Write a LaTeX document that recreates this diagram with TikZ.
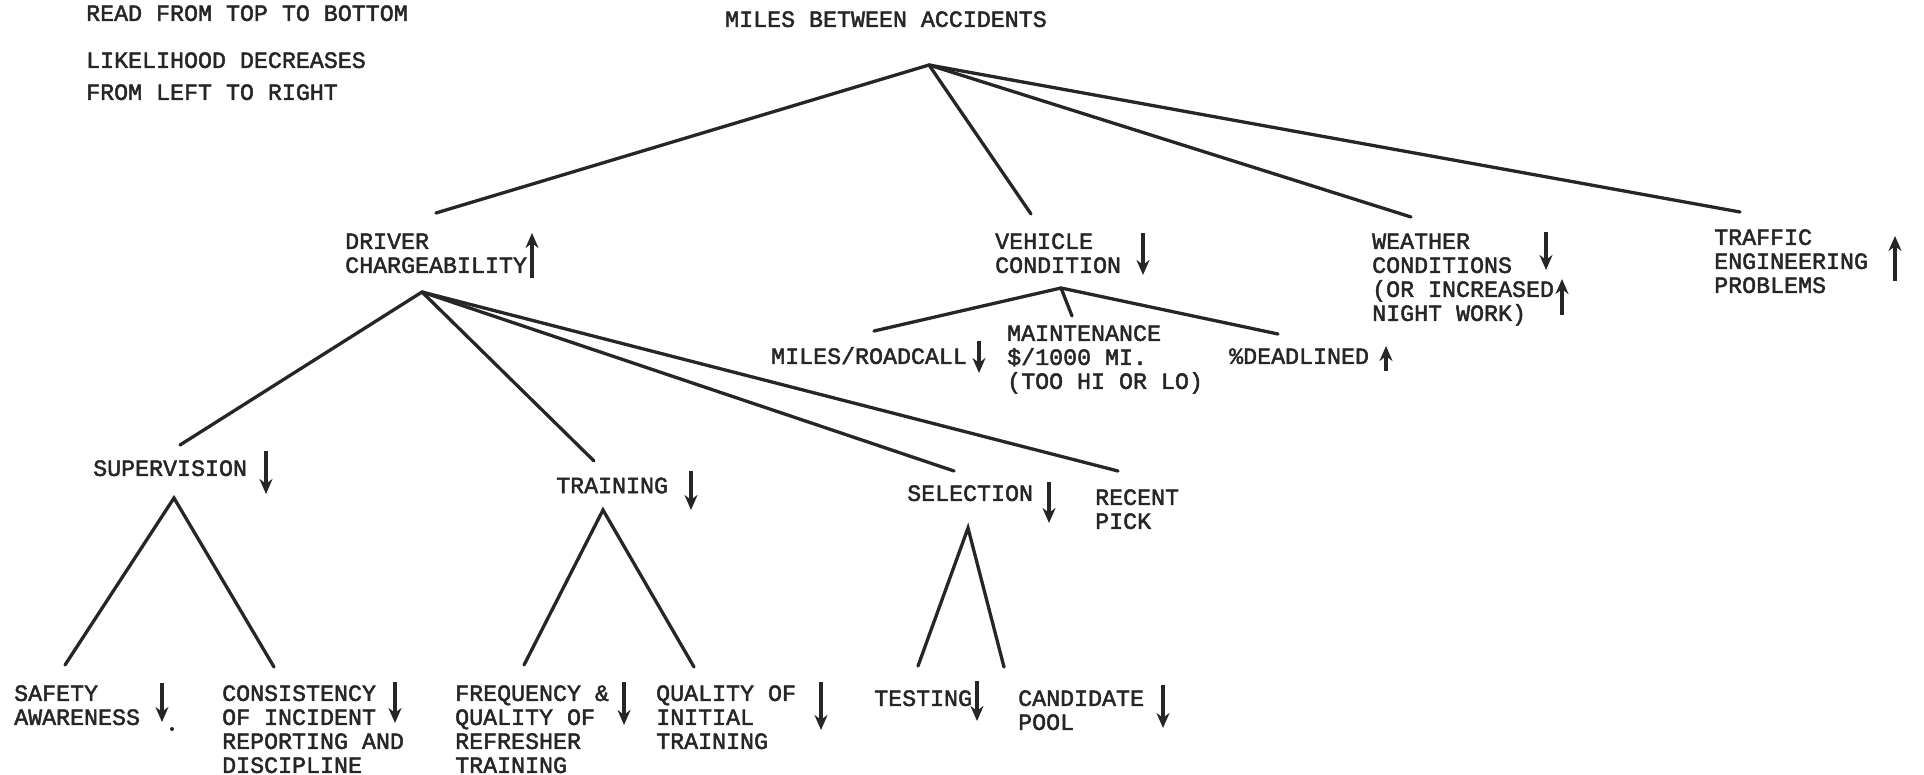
\documentclass[tikz,border=0pt]{standalone}
\usepackage{fontspec}
\newfontfamily\typewriter[FakeBold=2]{Liberation Mono}
\usetikzlibrary{arrows.meta}
\definecolor{ink}{HTML}{262626}
% fixed first-line height so every label's first baseline sits 20pt below its top
\newcommand\tallstrut{\rule{0pt}{20pt}}

\begin{document}
\begin{tikzpicture}[x=1pt,y=-1pt,
  txt/.style={anchor=north west, inner sep=0pt, align=left,
    font=\typewriter\fontsize{23.3}{24}\selectfont, text=ink},
  branch/.style={line width=3.3pt, draw=ink, line cap=round},
  trend/.style={line width=3.2pt, draw=ink, -{Stealth[length=15pt,width=13pt]}}]
\useasboundingbox (0,0) rectangle (1924,775);

% ---- notes and root
\node[txt] (note1) at (86,0.7) {\tallstrut READ FROM TOP TO BOTTOM};
\node[txt] (note2) at (86,47.7) {\tallstrut LIKELIHOOD DECREASES\\[8pt]FROM LEFT TO RIGHT};
\node[txt] (root) at (725,6.7) {\tallstrut MILES BETWEEN ACCIDENTS};
\coordinate (rootApex) at (929,65);

% ---- first level
\node[txt] (drv) at (345,228.7) {\tallstrut DRIVER\\CHARGEABILITY};
\node[txt] (veh) at (995,228.7) {\tallstrut VEHICLE\\CONDITION};
\node[txt] (wea) at (1372,228.7) {\tallstrut WEATHER\\CONDITIONS\\(OR INCREASED\\NIGHT WORK)};
\node[txt] (trf) at (1714,224.7) {\tallstrut TRAFFIC\\ENGINEERING\\PROBLEMS};

\coordinate (drvTop) at (436,213);
\coordinate (vehTop) at (1031,214);
\coordinate (weaTop) at (1411,217);
\coordinate (trfTop) at (1740,212);
\coordinate (drvApex) at (422,292);
\coordinate (vehApex) at (1061,288);

\draw[branch] (rootApex) -- (drvTop);
\draw[branch] (rootApex) -- (vehTop);
\draw[branch] (rootApex) -- (weaTop);
\draw[branch] (rootApex) -- (trfTop);

% ---- vehicle condition
\node[txt] (mrc) at (771,343.7) {\tallstrut MILES/ROADCALL};
\node[txt] (mnt) at (1007,320.7) {\tallstrut MAINTENANCE\\\$/1000 MI.\\(TOO HI OR LO)};
\node[txt] (ddl) at (1229,343.7) {\tallstrut\%DEADLINED};
\coordinate (mrcTop) at (874,331);
\coordinate (mntTop) at (1072,316);
\coordinate (ddlTop) at (1278,334);
\draw[branch] (vehApex) -- (mrcTop);
\draw[branch] (vehApex) -- (mntTop);
\draw[branch] (vehApex) -- (ddlTop);

% ---- driver chargeability
\node[txt] (sup) at (93,455.7) {\tallstrut SUPERVISION};
\node[txt] (trn) at (556,473) {\tallstrut TRAINING};
\node[txt] (sel) at (907,480.7) {\tallstrut SELECTION};
\node[txt] (rec) at (1095,484.7) {\tallstrut RECENT\\PICK};
\coordinate (supTop) at (180,445);
\coordinate (trnTop) at (594,461);
\coordinate (selTop) at (954,471);
\coordinate (recTop) at (1118,471);
\draw[branch] (drvApex) -- (supTop);
\draw[branch] (drvApex) -- (trnTop);
\draw[branch] (drvApex) -- (selTop);
\draw[branch] (drvApex) -- (recTop);

% ---- third level
\node[txt] (saf) at (14,680.7) {\tallstrut SAFETY\\AWARENESS};
\node[txt] (con) at (222,680.7) {\tallstrut CONSISTENCY\\OF INCIDENT\\REPORTING AND\\DISCIPLINE};
\node[txt] (frq) at (455,680.7) {\tallstrut FREQUENCY \&\\QUALITY OF\\REFRESHER\\TRAINING};
\node[txt] (qua) at (656,680.7) {\tallstrut QUALITY OF\\INITIAL\\TRAINING};
\node[txt] (tst) at (874,685.7) {\tallstrut TESTING};
\node[txt] (cnd) at (1018,685.7) {\tallstrut CANDIDATE\\POOL};

\coordinate (supApex) at (174,498);
\coordinate (trnApex) at (603,510);
\coordinate (selApex) at (968,528);
\coordinate (safTop) at (65,665);
\coordinate (conTop) at (274,667);
\coordinate (frqTop) at (524,665);
\coordinate (quaTop) at (694,667);
\coordinate (tstTop) at (918,666);
\coordinate (cndTop) at (1004,667);
\draw[branch] (safTop) -- (supApex) -- (conTop);
\draw[branch] (frqTop) -- (trnApex) -- (quaTop);
\draw[branch] (tstTop) -- (selApex) -- (cndTop);

% ---- trend arrows
\draw[trend] (532,278) -- (532,233);
\draw[trend] (1143,233) -- (1143,275);
\draw[trend] (1546,232) -- (1546,270);
\draw[trend] (1562,315) -- (1562,279);
\draw[trend] (1895,281) -- (1895,236);
\draw[trend] (979,341) -- (979,373);
\draw[trend] (1386,371) -- (1386,346);
\draw[trend] (266,451) -- (266,494);
\draw[trend] (691,471) -- (691,510);
\draw[trend] (1049,482) -- (1049,523);
\draw[trend] (162,683) -- (162,722);
\fill[ink] (172,729) circle (2);
\draw[trend] (395,682) -- (395,723);
\draw[trend] (624,682) -- (624,725);
\draw[trend] (821,682) -- (821,730);
\draw[trend] (977,681) -- (977,721);
\draw[trend] (1163,685) -- (1163,728);
\end{tikzpicture}
\end{document}
